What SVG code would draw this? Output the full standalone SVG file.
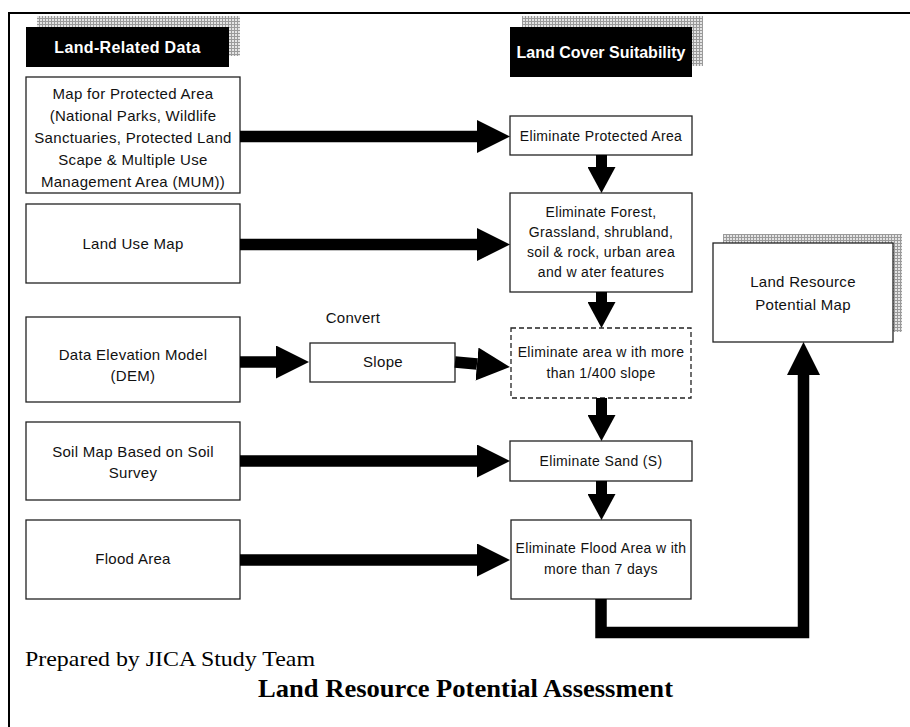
<svg xmlns="http://www.w3.org/2000/svg" width="910" height="727" viewBox="0 0 910 727">
<defs>
<pattern id="dots" width="3" height="3" patternUnits="userSpaceOnUse">
<rect width="3" height="3" fill="#e4e4e4"/>
<rect width="3" height="1" fill="#9a9a9a"/>
<rect width="1" height="3" fill="#9a9a9a"/>
</pattern>
<marker id="headH" markerUnits="userSpaceOnUse" markerWidth="34" markerHeight="34" refX="0" refY="16.5" orient="auto" viewBox="0 0 34 34">
<path d="M0,0 L33,16.5 L0,33 Z" fill="#000"/>
</marker>
<marker id="headV" markerUnits="userSpaceOnUse" markerWidth="28" markerHeight="28" refX="0" refY="14" orient="auto" viewBox="0 0 28 28">
<path d="M0,0 L26,14 L0,28 Z" fill="#000"/>
</marker>
<style>
.box{fill:#fff;stroke:#222;stroke-width:1.3}
.dash{fill:#fff;stroke:#222;stroke-width:1.3;stroke-dasharray:5,3}
.hdr{fill:#000}
.shadow{fill:url(#dots)}
.t{font-family:"Liberation Sans",Arial,sans-serif;font-size:15px;letter-spacing:0.3px;fill:#111;text-anchor:middle}
.ts{font-family:"Liberation Sans",Arial,sans-serif;font-size:14px;letter-spacing:0.35px;fill:#111;text-anchor:middle}
.th{font-family:"Liberation Sans",Arial,sans-serif;font-size:16px;font-weight:bold;fill:#fff;text-anchor:middle}
.arrH{fill:none;stroke:#000;stroke-width:11.5;marker-end:url(#headH)}
.arrV{fill:none;stroke:#000;stroke-width:11;marker-end:url(#headV)}
.frame{stroke:#000;stroke-width:2;fill:none}
.serif{font-family:"Liberation Serif","Times New Roman",serif;fill:#000}
</style>
</defs>
<rect width="910" height="727" fill="#fff"/>
<g id="frame">
<path class="frame" d="M9,727 V13 H910"/>
</g>
<g id="hdr-land-related">
<rect class="shadow" x="37" y="16" width="203" height="40"/>
<rect class="hdr" x="26" y="27" width="203" height="40"/>
<text class="th" x="127.5" y="52.5" letter-spacing="0.35">Land-Related Data</text>
</g>
<g id="hdr-land-cover">
<rect class="shadow" x="522" y="16" width="181" height="50"/>
<rect class="hdr" x="510" y="27" width="182" height="50"/>
<text class="th" x="601" y="57.5">Land Cover Suitability</text>
</g>
<g id="protected-map">
<rect class="box" x="26" y="77" width="214" height="116"/>
<text class="t" x="133" y="99">Map for Protected Area</text>
<text class="t" x="133" y="121">(National Parks, Wildlife</text>
<text class="t" x="133" y="143">Sanctuaries, Protected Land</text>
<text class="t" x="133" y="165">Scape &amp; Multiple Use</text>
<text class="t" x="133" y="187">Management Area (MUM))</text>
</g>
<g id="land-use-map">
<rect class="box" x="26" y="204" width="214" height="79"/>
<text class="t" x="133" y="249">Land Use Map</text>
</g>
<g id="dem">
<rect class="box" x="26" y="317" width="214" height="85"/>
<text class="t" x="133" y="360">Data Elevation Model</text>
<text class="t" x="133" y="381">(DEM)</text>
</g>
<g id="soil-map">
<rect class="box" x="26" y="422" width="214" height="78"/>
<text class="t" x="133" y="457">Soil Map Based on Soil</text>
<text class="t" x="133" y="478">Survey</text>
</g>
<g id="flood-area">
<rect class="box" x="26" y="520" width="214" height="79"/>
<text class="t" x="133" y="564">Flood Area</text>
</g>
<g id="slope">
<text class="t" x="353" y="323">Convert</text>
<rect class="box" x="310" y="343" width="145" height="39"/>
<text class="t" x="383" y="367">Slope</text>
</g>
<g id="elim-protected">
<rect class="box" x="510" y="116" width="182" height="39"/>
<text class="ts" x="601" y="141">Eliminate Protected Area</text>
</g>
<g id="elim-forest">
<rect class="box" x="510" y="193" width="182" height="99"/>
<text class="ts" x="601" y="217">Eliminate Forest,</text>
<text class="ts" x="601" y="237">Grassland, shrubland,</text>
<text class="ts" x="601" y="257">soil &amp; rock, urban area</text>
<text class="ts" x="601" y="277">and w ater features</text>
</g>
<g id="elim-slope">
<rect class="dash" x="511" y="328" width="180" height="70"/>
<text class="ts" x="601" y="357">Eliminate area w ith more</text>
<text class="ts" x="601" y="378">than 1/400 slope</text>
</g>
<g id="elim-sand">
<rect class="box" x="510" y="441" width="182" height="40"/>
<text class="ts" x="601" y="466">Eliminate Sand (S)</text>
</g>
<g id="elim-flood">
<rect class="box" x="511" y="520" width="180" height="79"/>
<text class="ts" x="601" y="553">Eliminate Flood Area w ith</text>
<text class="ts" x="601" y="574">more than 7 days</text>
</g>
<g id="land-resource-map">
<rect class="shadow" x="723" y="234" width="179" height="98"/>
<rect class="box" x="713" y="243" width="180" height="99"/>
<text class="t" x="803" y="287" font-size="16">Land Resource</text>
<text class="t" x="803" y="310" font-size="16">Potential Map</text>
</g>
<g id="connectors">
<path class="arrH" d="M240,136.5 H477"/>
<path class="arrH" d="M240,244.5 H477"/>
<path class="arrH" d="M240,362 H276"/>
<path class="arrH" d="M455,362 L477,364"/>
<path class="arrH" d="M240,461 H477"/>
<path class="arrH" d="M240,560 H477"/>
<path class="arrV" d="M601.5,155 V167"/>
<path class="arrV" d="M601.5,292 V302"/>
<path class="arrV" d="M601.5,398 V415"/>
<path class="arrV" d="M601.5,481 V494"/>
<path class="arrH" d="M601,599 V632.5 H803.5 V375"/>
</g>
<g id="captions">
<text class="serif" x="25" y="666" font-size="21" textLength="290" lengthAdjust="spacingAndGlyphs">Prepared by JICA Study Team</text>
<text class="serif" x="258" y="697" font-size="25" font-weight="bold" textLength="415" lengthAdjust="spacingAndGlyphs">Land Resource Potential Assessment</text>
</g>
</svg>
